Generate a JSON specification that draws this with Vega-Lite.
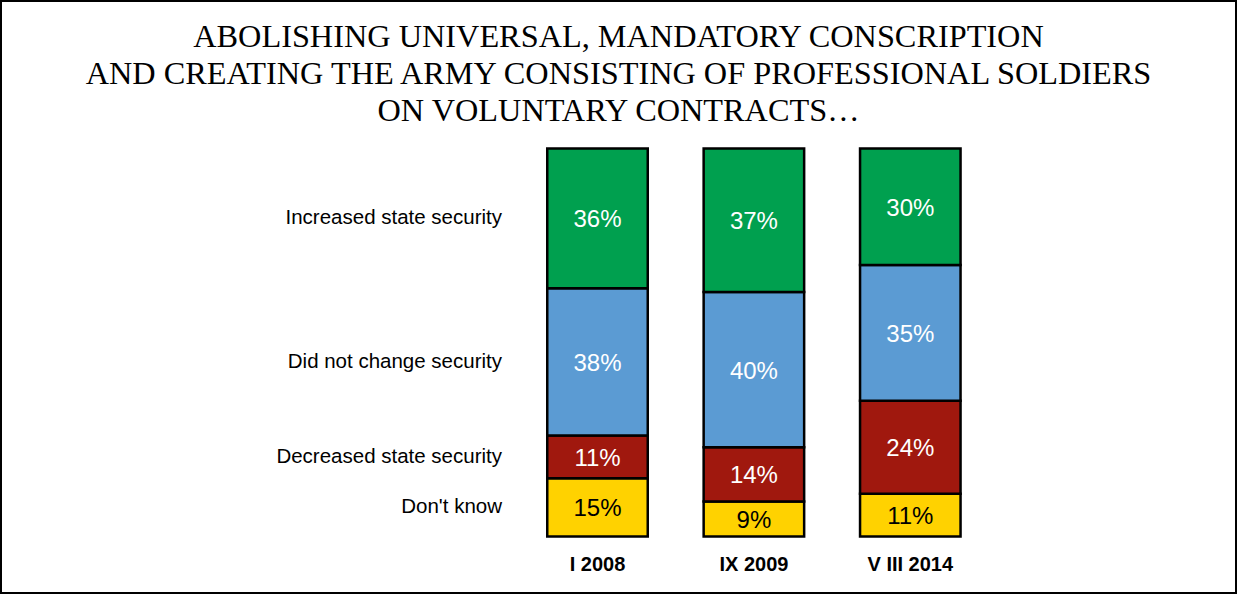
{
  "$schema": "https://vega.github.io/schema/vega-lite/v6.json",
  "width": 1237,
  "height": 594,
  "autosize": "none",
  "padding": 0,
  "background": "white",
  "view": {"stroke": "black", "strokeWidth": 4},
  "title": {
    "text": ["ABOLISHING UNIVERSAL, MANDATORY CONSCRIPTION", "AND CREATING THE ARMY CONSISTING OF  PROFESSIONAL SOLDIERS", "ON VOLUNTARY CONTRACTS…"],
    "font": "Liberation Serif",
    "fontSize": 32.3,
    "fontWeight": "normal",
    "color": "black",
    "lineHeight": 37,
    "anchor": "middle",
    "frame": "group",
    "orient": "top",
    "offset": -127
  },
  "data": {
    "values": [
      {"period": "I 2008", "category": "Don't know", "rank": 1, "value": 0.15},
      {"period": "I 2008", "category": "Decreased state security", "rank": 2, "value": 0.11},
      {"period": "I 2008", "category": "Did not change security", "rank": 3, "value": 0.38},
      {"period": "I 2008", "category": "Increased state security", "rank": 4, "value": 0.36},
      {"period": "IX  2009", "category": "Don't know", "rank": 1, "value": 0.09},
      {"period": "IX  2009", "category": "Decreased state security", "rank": 2, "value": 0.14},
      {"period": "IX  2009", "category": "Did not change security", "rank": 3, "value": 0.40},
      {"period": "IX  2009", "category": "Increased state security", "rank": 4, "value": 0.37},
      {"period": "V III 2014", "category": "Don't know", "rank": 1, "value": 0.11},
      {"period": "V III 2014", "category": "Decreased state security", "rank": 2, "value": 0.24},
      {"period": "V III 2014", "category": "Did not change security", "rank": 3, "value": 0.35},
      {"period": "V III 2014", "category": "Increased state security", "rank": 4, "value": 0.30}
    ]
  },
  "encoding": {
    "x": {
      "field": "period",
      "type": "nominal",
      "sort": null,
      "scale": {"range": [547.25, 960.55], "paddingInner": 0.3574, "paddingOuter": 0},
      "axis": {
        "title": null,
        "orient": "bottom",
        "offset": -40,
        "domain": false,
        "ticks": false,
        "tickSize": 0,
        "labelPadding": 10,
        "labelBaseline": "middle",
        "labelAngle": 0,
        "labelFont": "Liberation Sans",
        "labelFontSize": 20,
        "labelFontWeight": "bold",
        "labelColor": "black",
        "grid": false
      }
    },
    "y": {
      "field": "value",
      "type": "quantitative",
      "stack": "zero",
      "scale": {"domain": [-0.1482, 1.3827], "nice": false, "zero": false},
      "axis": null
    },
    "order": {"field": "rank", "type": "quantitative"}
  },
  "layer": [
    {
      "mark": {"type": "bar", "stroke": "black", "strokeWidth": 2.5},
      "encoding": {
        "color": {
          "field": "category",
          "type": "nominal",
          "scale": {
            "domain": ["Increased state security", "Did not change security", "Decreased state security", "Don't know"],
            "range": ["#00A04F", "#5B9BD3", "#A0180E", "#FFD200"]
          },
          "legend": null
        }
      }
    },
    {
      "mark": {"type": "text", "font": "Liberation Sans", "fontSize": 24, "baseline": "middle", "align": "center", "dy": 2},
      "encoding": {
        "y": {"field": "value", "type": "quantitative", "stack": "zero", "bandPosition": 0.5},
        "detail": {"field": "category", "type": "nominal"},
        "text": {"field": "value", "type": "quantitative", "format": ".0%"},
        "color": {
          "condition": {"test": "datum.category === \"Don't know\"", "value": "black"},
          "value": "white"
        }
      }
    },
    {
      "transform": [{"filter": "datum.period === 'I 2008'"}],
      "mark": {"type": "text", "font": "Liberation Sans", "fontSize": 20.5, "baseline": "middle", "align": "right", "dx": -95.5, "color": "black"},
      "encoding": {
        "y": {"field": "value", "type": "quantitative", "stack": "zero", "bandPosition": 0.5},
        "detail": {"field": "category", "type": "nominal"},
        "text": {"field": "category", "type": "nominal"}
      }
    }
  ]
}
